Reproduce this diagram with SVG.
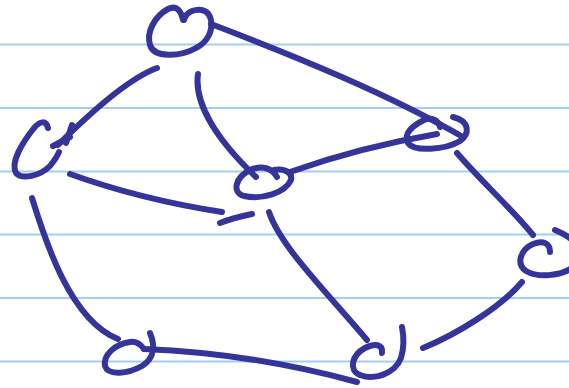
<svg xmlns="http://www.w3.org/2000/svg" width="569" height="388" viewBox="0 0 569 388">
<style>
.ruled{stroke:#a3ccf7;stroke-width:2.2}
.ink{fill:none;stroke:#34349a;stroke-width:6;stroke-linecap:round;stroke-linejoin:round}
</style>
<rect width="569" height="388" fill="#ffffff"/>
<g id="paper">
<line class="ruled" x1="0" y1="44.5" x2="569" y2="44.5"/>
<line class="ruled" x1="0" y1="108" x2="569" y2="108"/>
<line class="ruled" x1="0" y1="171.5" x2="569" y2="171.5"/>
<line class="ruled" x1="0" y1="234.5" x2="569" y2="234.5"/>
<line class="ruled" x1="0" y1="298" x2="569" y2="298"/>
<line class="ruled" x1="0" y1="361.5" x2="569" y2="361.5"/>
</g>
<g id="connectors" class="ink">
<path d="M211,24 C300,58 390,95 463,137"/>
<path d="M157,68 C130,78 95,108 58,145"/>
<path d="M72,125 L66,143 M53,146 L70,137"/>
<path d="M198,74 C194,102 215,138 256,177"/>
<path d="M290,172 C335,156 390,142 437,134"/>
<path d="M70,174 C120,192 170,204 222,212"/>
<path d="M220,223 C230,219 242,216 252,214"/>
<path d="M269,212 C280,245 320,285 367,340"/>
<path d="M457,153 C480,180 510,207 533,235"/>
<path d="M32,198 C45,240 70,320 118,339"/>
<path d="M144,349 C220,352 295,365 357,382"/>
<path d="M423,348 C455,335 500,308 522,282"/>
</g>
<g id="node-top" class="ink">
<path d="M183,20 C181,10 176,5 168,9 C155,16 146,32 150,45 C154,58 180,57 196,48 C208,42 213,30 211,20 C209,10 200,8 192,11 C187,13 185,16 184,20"/>
</g>
<g id="node-left" class="ink">
<path d="M48,128 C46,120 40,121 34,128 C22,143 10,163 16,173 C22,180 40,176 50,166 C54,161 57,157 59,152"/>
</g>
<g id="node-middle" class="ink">
<path d="M277,177 C272,168 262,165 250,170 C236,177 231,192 244,196 C262,200 285,193 291,180 C293,172 283,168 274,170"/>
</g>
<g id="node-right" class="ink">
<path d="M440,127 C438,120 432,117 424,120 C412,126 403,134 408,143 C414,152 445,150 460,141 C470,134 470,121 453,117"/>
</g>
<g id="node-bottom-left" class="ink">
<path d="M150,333 C155,345 155,358 142,366 C128,374 108,376 105,366 C103,355 115,344 130,342 C137,341 141,345 144,349"/>
</g>
<g id="node-bottom-middle" class="ink">
<path d="M382,353 C383,344 375,343 365,348 C352,355 348,370 360,375 C375,381 395,373 401,358 C404,348 404,337 402,327"/>
</g>
<g id="node-bottom-right" class="ink">
<path d="M550,252 C550,243 543,240 533,244 C520,250 516,264 526,271 C538,278 560,276 572,268"/>
<path d="M555,230 C562,233 568,236 572,240"/>
</g>
</svg>
